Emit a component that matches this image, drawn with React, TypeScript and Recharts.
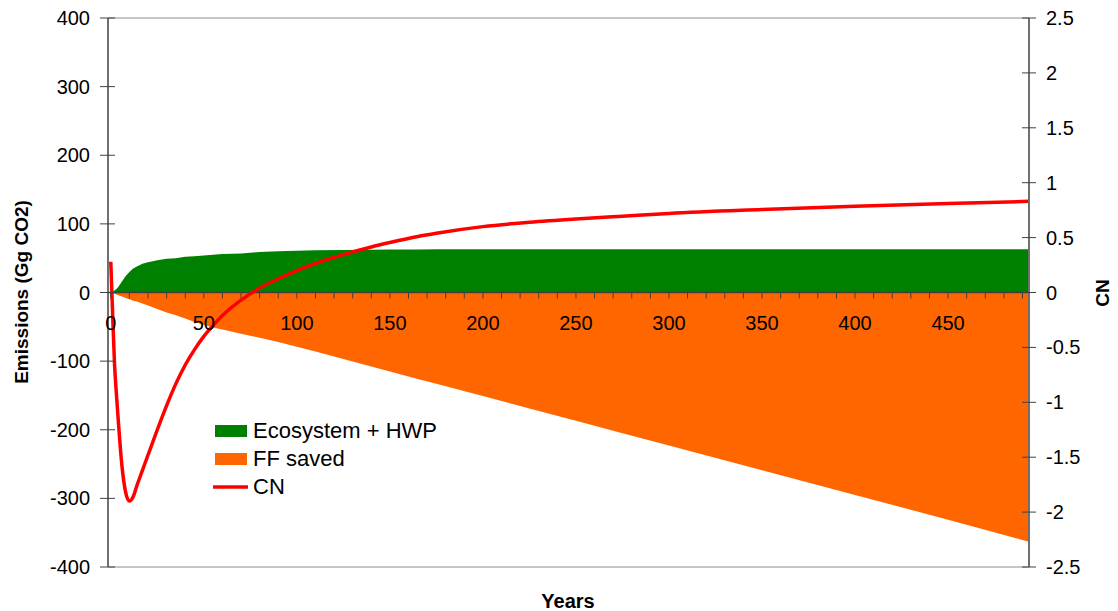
import React from 'react';
import { ComposedChart, Area, Line, XAxis, YAxis, ReferenceLine, Legend } from 'recharts';

const years = [0, 1, 2, 3, 4, 6, 8, 10, 12, 14, 17, 20, 25, 30, 35, 40, 45, 50, 55, 60, 70, 80, 90, 100, 110, 125, 140, 150, 165, 175, 200, 225, 250, 275, 300, 350, 400, 450, 493];
const ecosystemHwp = [0, 1, 3, 5, 8, 16, 24, 30, 35, 38, 42, 44, 47, 49, 50, 52, 53, 54, 55, 56, 57, 59, 60, 61, 61.5, 62, 62.3, 62.5, 62.8, 63, 63, 63, 63, 63, 63, 63, 63, 63, 63];
const ffSaved = [0, -1, -2, -3, -4, -6, -8, -10, -12, -13, -16, -19, -24, -29, -33, -38, -43, -47, -51, -54, -60, -66, -72, -79, -86, -97, -108, -115, -126, -133, -151, -169, -187, -205, -223, -259, -295, -331, -363];
const cn = [0.28, -0.2, -0.65, -0.92, -1.16, -1.58, -1.82, -1.9, -1.86, -1.76, -1.62, -1.48, -1.25, -1.03, -0.83, -0.66, -0.52, -0.4, -0.3, -0.21, -0.07, 0.04, 0.125, 0.2, 0.265, 0.345, 0.415, 0.455, 0.51, 0.54, 0.6, 0.64, 0.67, 0.695, 0.72, 0.755, 0.785, 0.81, 0.83];

const leftTicks = [-400, -300, -200, -100, 0, 100, 200, 300, 400];
const rightTicks = [-2.5, -2, -1.5, -1, -0.5, 0, 0.5, 1, 1.5, 2, 2.5];
const xTicks = Array.from({ length: 50 }, (_, i) => i * 10);
const legendOrder = ['Ecosystem + HWP', 'FF saved', 'CN'];

const data = years.map((year, i) => ({
  year,
  eco: ecosystemHwp[i],
  ff: ffSaved[i],
  cn: cn[i],
}));

const FONT = "'Liberation Sans', Arial, sans-serif";
const AXIS = '#404040';
const BORDER = '#8c8c8c';
const PLOT_H = 549;

function XTick(props: any) {
  const { x, y, payload } = props;
  const zeroY = y - PLOT_H / 2;
  return (
    <g>
      <line x1={x} x2={x} y1={zeroY} y2={zeroY + 6} stroke={AXIS} strokeWidth={1} />
      {payload.value % 50 === 0 && (
        <text x={x} y={zeroY + 37} textAnchor="middle" fill="#000" fontSize={20} fontFamily={FONT}>
          {payload.value}
        </text>
      )}
    </g>
  );
}

function LeftTick(props: any) {
  const { x, y, payload } = props;
  return (
    <g>
      <line x1={x - 8} x2={x + 7} y1={y} y2={y} stroke={AXIS} />
      <text x={x - 18} y={y} dy="0.35em" textAnchor="end" fill="#000" fontSize={20} fontFamily={FONT}>
        {payload.value}
      </text>
    </g>
  );
}

function RightTick(props: any) {
  const { x, y, payload } = props;
  return (
    <g>
      <line x1={x - 7} x2={x + 7} y1={y} y2={y} stroke={AXIS} />
      <text x={x + 17} y={y} dy="0.35em" textAnchor="start" fill="#000" fontSize={20} fontFamily={FONT}>
        {payload.value}
      </text>
    </g>
  );
}

function LegendBox(props: any) {
  const items = [...(props.payload || [])].sort(
    (a: any, b: any) => legendOrder.indexOf(a.value) - legendOrder.indexOf(b.value)
  );
  return (
    <div style={{ fontFamily: FONT, fontSize: 22, color: '#000' }}>
      {items.map((it: any) => (
        <div key={it.value} style={{ display: 'flex', alignItems: 'center', height: 28 }}>
          <svg width={40} height={14}>
            {it.type === 'line' ? (
              <line x1={0} x2={35} y1={7} y2={7} stroke={it.color} strokeWidth={3.5} />
            ) : (
              <rect x={2} y={1} width={32} height={12} fill={it.color} />
            )}
          </svg>
          <span>{it.value}</span>
        </div>
      ))}
    </div>
  );
}

export default function App() {
  return (
    <div style={{ position: 'absolute', left: 0, top: 0, width: 1118, height: 611, background: '#fff', fontFamily: FONT }}>
      <ComposedChart width={1118} height={611} data={data} margin={{ top: 18, right: 19, bottom: 14, left: 30 }}>
        <YAxis
          yAxisId="left"
          domain={[-400, 400]}
          ticks={leftTicks}
          width={78}
          axisLine={{ stroke: AXIS, strokeWidth: 1.5 }}
          tickLine={false}
          tickSize={0}
          tickMargin={0}
          tick={<LeftTick />}
          interval={0}
        />
        <YAxis
          yAxisId="right"
          orientation="right"
          domain={[-2.5, 2.5]}
          ticks={rightTicks}
          width={70}
          axisLine={{ stroke: AXIS, strokeWidth: 1.5 }}
          tickLine={false}
          tickSize={0}
          tickMargin={0}
          tick={<RightTick />}
          interval={0}
        />
        <ReferenceLine yAxisId="left" y={400} stroke={BORDER} />
        <Area
          yAxisId="left"
          dataKey="eco"
          name="Ecosystem + HWP"
          type="linear"
          fill="#008000"
          fillOpacity={1}
          stroke="none"
          baseValue={0}
          legendType="rect"
          isAnimationActive={false}
        />
        <Area
          yAxisId="left"
          dataKey="ff"
          name="FF saved"
          type="linear"
          fill="#FF6600"
          fillOpacity={1}
          stroke="none"
          baseValue={0}
          legendType="rect"
          isAnimationActive={false}
        />
        <ReferenceLine yAxisId="left" y={0} stroke={AXIS} strokeWidth={1.5} />
        <Line
          yAxisId="right"
          dataKey="cn"
          name="CN"
          type="monotone"
          stroke="#FF0000"
          strokeWidth={3.5}
          dot={false}
          legendType="line"
          isAnimationActive={false}
        />
        <XAxis
          dataKey="year"
          type="number"
          domain={[-1.5, 493.5]}
          ticks={xTicks}
          interval={0}
          height={30}
          axisLine={{ stroke: BORDER }}
          tickLine={false}
          tickSize={0}
          tickMargin={0}
          tick={<XTick />}
        />
        <Legend
          layout="vertical"
          align="center"
          verticalAlign="middle"
          content={<LegendBox />}
          wrapperStyle={{ left: 213, top: 417, width: 'auto' }}
        />
      </ComposedChart>
      <div
        style={{
          position: 'absolute', left: 22, top: 292, transform: 'translate(-50%, -50%) rotate(-90deg)',
          whiteSpace: 'nowrap', fontWeight: 'bold', fontSize: 19,
        }}
      >
        Emissions (Gg CO2)
      </div>
      <div
        style={{
          position: 'absolute', left: 1103, top: 293, transform: 'translate(-50%, -50%) rotate(-90deg)',
          whiteSpace: 'nowrap', fontWeight: 'bold', fontSize: 19,
        }}
      >
        CN
      </div>
      <div
        style={{
          position: 'absolute', left: 568, top: 601, transform: 'translate(-50%, -50%)',
          whiteSpace: 'nowrap', fontWeight: 'bold', fontSize: 20,
        }}
      >
        Years
      </div>
    </div>
  );
}
